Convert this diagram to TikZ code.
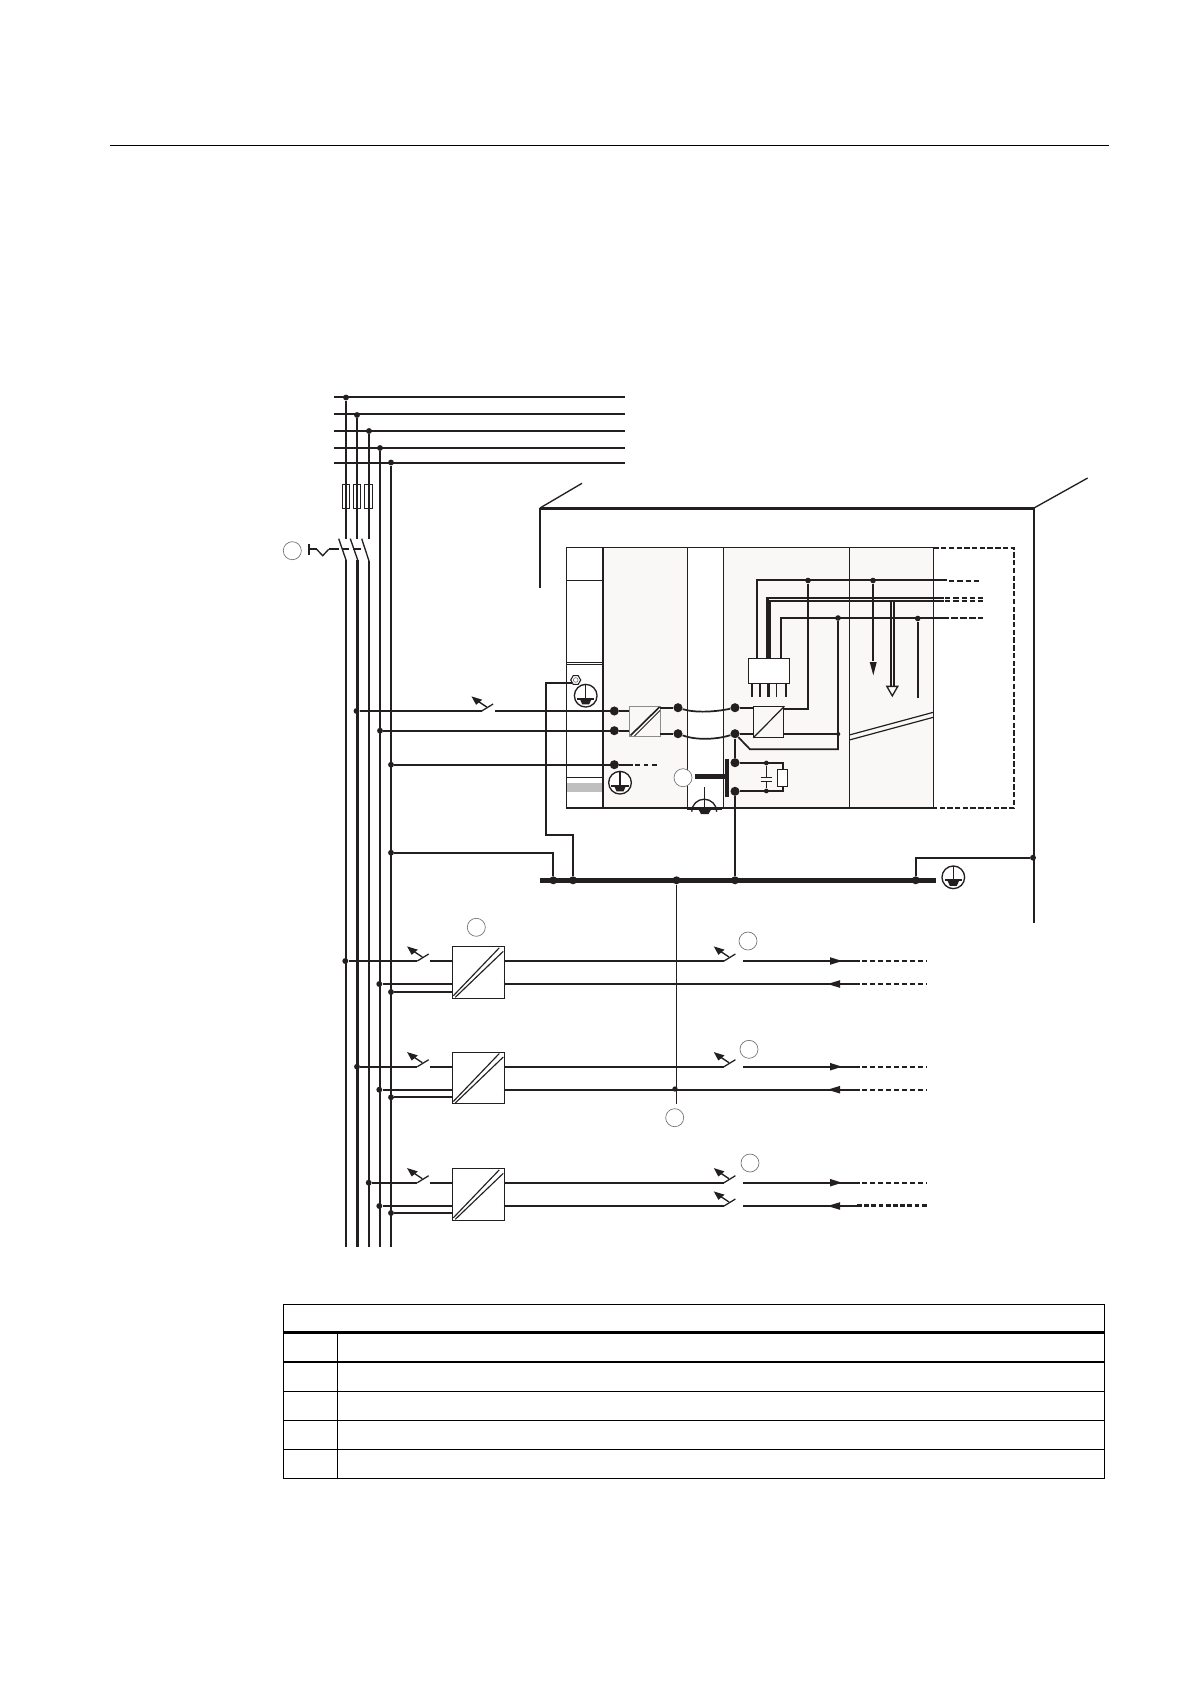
\documentclass[tikz,border=0pt]{standalone}
\usetikzlibrary{arrows.meta,shapes.geometric}
\definecolor{ink}{HTML}{231F20}
\definecolor{panel}{HTML}{F9F8F7}
\tikzset{
  x=0.75pt,y=-0.75pt,
  wire/.style={draw=ink,line width=1.3pt},
  fine/.style={draw=ink,line width=0.9pt},
  thin wire/.style={draw=ink,line width=0.75pt},
  heavy/.style={draw=ink,line width=3.3pt},
  encl/.style={draw=ink,line width=1.7pt},
  dashwire/.style={draw=ink,line width=1.2pt,dash pattern=on 4pt off 2.2pt},
  dot/.style={circle,fill=ink,inner sep=0pt,minimum size=4.4pt},
  bigdot/.style={circle,fill=ink,inner sep=0pt,minimum size=6.8pt},
  raildot/.style={circle,fill=ink,inner sep=0pt,minimum size=6pt},
  callout/.style={circle,draw=black!55,line width=0.5pt,fill=white,inner sep=0pt,minimum size=13.5pt},
  convbox/.style={draw=ink,line width=0.8pt,fill=white},
  tablerule/.style={draw=black,line width=0.85pt},
}
% breaker: line ends at (#1,#2); blade and operating arrow
\newcommand\myBreaker[2]{%
  \draw[wire,line width=0.95pt] (#1,#2)--++(11.4,-7);
  \fill[ink] (#1-10.2,#2-14.6)--(#1+0.5,#2-11.3)--(#1-5.6,#2-6.2)--cycle;
  \draw[wire,line width=1pt] (#1-4,#2-10)--(#1+5,#2-4);
}
% protective earth symbol
\newcommand\myEarth[3]{%
  \node[circle,draw=ink,line width=1pt,fill=#3,inner sep=0pt,minimum size=17pt] (#1) at (#2) {};
  \begin{scope}[shift={(#2)}]
    \draw[wire,line width=1pt] (0,-11)--(0,3);
    \draw[wire,line width=1.3pt] (-8.7,3)--(8.7,3);
    \fill[ink] (-6,3)--(6,3)--(3.5,8.6)--(-3.5,8.6)--cycle;
  \end{scope}
}
% double-diagonal converter
\newcommand\myConv[3]{%
  \node[convbox,rectangle,minimum width=38.5pt,minimum height=38.5pt,inner sep=0pt,anchor=north west] (#1) at (#2,#3) {};
  \draw[fine,line width=0.85pt] (#2+1,#3+49.5)--(#2+47,#3+1.5);
  \draw[fine,line width=0.85pt] (#2+3,#3+51)--(#2+51,#3+5);
}
\begin{document}
\begin{tikzpicture}
\useasboundingbox (0,0) rectangle (1190,1684);
\fill[white] (0,0) rectangle (1190,1684);

% page rule
\draw[draw=black,line width=0.75pt] (109.5,145.5)--(1108.5,145.5);

% supply buses
\foreach \y in {397,414,431,448,463}{\draw[wire] (334,\y)--(625,\y);}
\node[dot] (ja) at (346,397.5) {};
\node[dot] (jb) at (357,415) {};
\node[dot] (jc) at (369,431) {};
\node[dot] (jd) at (380,448) {};
\node[dot] (je) at (391,462.5) {};

% upper parts of the three switched phases, fuses
\draw[wire] (ja)--(346,538.7);
\draw[wire] (jb)--(357,538.7);
\draw[wire] (jc)--(369,538.7);
\foreach \x in {346,357,368.5}{\draw[thin wire,line width=0.7pt] (\x-3.8,484) rectangle (\x+3.8,508.7);}
% main switch
\draw[wire,line width=1pt] (338.7,538.7)--(346,560);
\draw[wire,line width=1pt] (350.3,538.7)--(357.7,560);
\draw[wire,line width=1pt] (361.7,538.7)--(369,561);
\draw[wire] (346,560)--(346,1246.5);
\draw[wire,line width=1.7pt] (357.5,560)--(357.5,1246.5);
\draw[wire] (369,561)--(369,1246.5);
\draw[wire] (jd)--(380,1246.5);
\draw[wire] (je)--(391,1246.5);
% main switch drive
\draw[wire,line width=1.7pt] (308.7,544)--(308.7,555);
\draw[wire,line width=1.6pt] (308.7,549.3)--(316.7,549.3);
\draw[wire,line width=1pt] (316.7,549.3)--(322.7,555.7)--(328.7,549.3);
\draw[wire,line width=1.6pt] (328.7,549.3)--(339,549.3);
\draw[wire,line width=1.6pt] (342,549.3)--(349,549.3);
\draw[wire,line width=1.6pt] (353.3,549.3)--(360.7,549.3);
\node[callout] (c1) at (292.3,550.7) {};

% enclosure
\draw[encl,line width=2.2pt] (540,508.3)--(1034,508.3);
\draw[encl] (540,507.5)--(540,587.7);
\draw[encl] (1034,507.5)--(1034,923.3);
\draw[wire,line width=1pt] (540,508)--(582,483.3);
\draw[wire,line width=1pt] (1034,508)--(1087.7,478);

% rack panels
\fill[panel] (602.7,547.3) rectangle (687.3,808);
\fill[panel] (723.3,547.3) rectangle (933.3,808);
\draw[fine] (566.3,547.3)--(933.3,547.3);
\draw[fine] (566.3,808)--(933.3,808);
\draw[fine] (566.3,547.3)--(566.3,808);
\draw[wire,line width=1.2pt] (602.7,546.5)--(602.7,808);
\draw[fine] (687.3,547.3)--(687.3,808);
\draw[fine] (723.3,547.3)--(723.3,808);
\draw[fine] (849.3,547.3)--(849.3,808);
\draw[fine] (933.3,547.3)--(933.3,808);
\foreach \y in {580,662,664,777.3}{\draw[fine,line width=0.7pt] (566.3,\y)--(602.7,\y);}
\fill[black!25] (566.8,783.3) rectangle (602,792.3);
\draw[draw=ink,line width=1.2pt,dash pattern=on 4pt off 1.8pt] (933.3,548)--(1014,548)--(1014,808)--(933.3,808);
\draw[fine] (849.3,735)--(933.3,712.3);
\draw[fine] (849.3,740)--(933.3,717.3);

% signal bus wires
\coordinate (cona) at (757,658.3);
\coordinate (conb) at (766.7,658.3);
\coordinate (conc) at (770,658.3);
\coordinate (cond) at (780.7,658.3);
\node[dot,minimum size=4.2pt] (j1) at (808,580.5) {};
\node[dot,minimum size=4.2pt] (j2) at (873,580.5) {};
\node[dot,minimum size=4.2pt] (j3) at (838,618) {};
\node[dot,minimum size=4.2pt] (j4) at (917.7,618.5) {};
\draw[wire] (cona)--(757,580)--(946.7,580);
\draw[dashwire] (949,581)--(982,581);
\draw[wire] (conb)--(766.7,597.7)--(944,597.7);
\draw[wire] (conc)--(770,600.7)--(944,600.7);
\draw[wire,line width=2pt] (768,658.3)--(768,599);
\draw[dashwire] (945,597.7)--(984,597.7);
\draw[dashwire] (945,600.9)--(984,600.9);
\draw[wire] (cond)--(780.7,617.7)--(942,617.7);
\draw[dashwire,line width=1.7pt,dash pattern=on 5.2pt off 1.5pt] (942,618)--(983,618);
% lower loads
\draw[wire] (j2)--(873,661);
\fill[ink] (869.7,662)--(876.7,662)--(873.3,675.3)--cycle;
\draw[fine,line width=1pt] (891,600.7)--(891,687);
\draw[fine,line width=1pt] (894,600.7)--(894,687);
\node[draw=ink,line width=1pt,fill=white,regular polygon,regular polygon sides=3,shape border rotate=180,inner sep=0pt,minimum size=9.5pt] (hol) at (892.3,689.5) {};
\draw[wire] (j4)--(917.7,697.7);
% connector block
\node[draw=ink,line width=0.85pt,fill=white,minimum width=30.3pt,minimum height=18.3pt,inner sep=0pt,anchor=north west] (block) at (748.3,658.3) {};
\foreach \x in {752,760,776.7,786}{\draw[wire,line width=1.1pt] (\x,682.7)--(\x,696.7);}
\draw[wire,line width=1.8pt] (768.3,682.7)--(768.3,696.7);

% supply to rack
\node[dot] (in1) at (356.5,711) {};
\node[dot] (in2) at (380,730.7) {};
\node[dot] (in3) at (391,764.7) {};
\node[bigdot] (d1) at (614.3,711) {};
\node[bigdot] (d2) at (614.3,730.7) {};
\node[bigdot] (d3) at (614.3,764.7) {};
\draw[wire] (in1)--(481.7,711);
\myBreaker{481.7}{711}
\draw[wire] (495,711)--(d1);
\draw[wire] (in2)--(d2);
\draw[wire] (in3)--(d3);
\draw[wire] (d3)--(633,764.7);
\draw[dashwire,dash pattern=on 3.5pt off 3pt] (635,764.7)--(660,764.7);

% converter 1 (rack)
\node[draw=black!45,line width=0.8pt,fill=panel,minimum width=23.2pt,minimum height=23pt,inner sep=0pt,anchor=north west] (cv1) at (629.3,705.7) {};
\draw[draw=ink,line width=1.2pt] (630.5,735.5)--(659.5,707);
\draw[draw=ink,line width=0.7pt] (634.5,736)--(660,710.5);
\coordinate (cv1a) at (629.3,711);
\coordinate (cv1b) at (629.3,730.7);
\draw[wire] (d1)--(cv1a);
\draw[wire] (d2)--(cv1b);
\node[bigdot] (d4) at (678,707.7) {};
\node[bigdot] (d5) at (678,733.7) {};
\node[bigdot] (d6) at (735,707.7) {};
\node[bigdot] (d7) at (735,733.7) {};
\coordinate (cv1c) at (660.3,707.7);
\coordinate (cv1d) at (660.3,733.7);
\draw[wire] (cv1c)--(d4);
\draw[wire] (cv1d)--(d5);
\draw[wire] (d4) .. controls (695,713) and (715,712) .. (d6);
\draw[wire] (d5) .. controls (695,740) and (715,740) .. (d7);
% converter 2
\node[draw=ink,line width=0.8pt,fill=panel,minimum width=22.5pt,minimum height=22.8pt,inner sep=0pt,anchor=north west] (cv2) at (753.3,706.3) {};
\draw[fine] (cv2.south west)--(cv2.north east);
\coordinate (cv2a) at (753.3,707.7);
\coordinate (cv2b) at (753.3,733.7);
\draw[wire] (d6)--(cv2a);
\draw[wire] (d7)--(cv2b);
\coordinate (cv2c) at (783.3,708.7);
\draw[wire] (cv2c)--(808,708.7)--(j1);
\draw[wire,line width=1.9pt] (783.3,734)--(838,734);
\draw[wire] (j3)--(838,749.3)--(750,749.3)--(d7);
\node[dot,minimum size=3pt] (j3b) at (838.3,734) {};

% filter group
\node[bigdot] (d8) at (735,762.7) {};
\node[bigdot] (d9) at (735,791.3) {};
\draw[wire] (d7)--(d8);
\draw[draw=ink,line width=3.2pt] (727.3,759)--(727.3,796.7);
\draw[draw=ink,line width=3.6pt] (695,776.3)--(727.3,776.3);
\node[callout] (c2) at (683,777.7) {};
\draw[wire,line width=1.6pt] (d8)--(783.3,762.7)--(783.3,791.3)--(d9);
\node[dot,minimum size=3.6pt] (fa) at (766.3,763) {};
\node[dot,minimum size=3.6pt] (fb) at (766.3,791) {};
\draw[wire,line width=1pt] (fa)--(766.3,777.7);
\draw[wire,line width=1pt] (fb)--(766.3,781.3);
\draw[wire,line width=1.1pt] (760.7,777.7)--(772,777.7);
\draw[wire,line width=1.1pt] (760.7,781.3)--(772,781.3);
\node[draw=ink,line width=0.8pt,fill=white,minimum width=7pt,minimum height=12.7pt,inner sep=0pt,anchor=north west] (res) at (777.3,768.7) {};

% bottom screen earth
\draw[wire,line width=1.1pt] (704.7,787.3)--(704.7,808);
\draw[wire,line width=1pt] (691.7,811.7) arc (180:360:12.5);
\draw[draw=ink,line width=1pt] (686.5,809)--(722,809);
\fill[ink] (698,808.5)--(711.7,808.5)--(708.5,814)--(701,814)--cycle;

% earth symbols
\myEarth{ea}{585.7,695.7}{white}
\myEarth{eb}{620,782.7}{white}
\myEarth{ec}{953.3,877.3}{white}
\node[draw=ink,line width=0.8pt,fill=white,regular polygon,regular polygon sides=6,inner sep=0pt,minimum size=7.5pt] (bolt) at (575.7,680) {};
\node[circle,draw=black!60,line width=0.4pt,inner sep=0pt,minimum size=3.5pt] (boltc) at (575.7,680) {};
\coordinate (boltfoot) at (571.7,682.7);

% earth rail
\draw[heavy] (540,880.3)--(935.7,880.3);
\node[raildot] (r1) at (553.3,880.3) {};
\node[raildot] (r2) at (573,880.3) {};
\node[raildot] (r3) at (676.5,880.3) {};
\node[raildot] (r4) at (735,880.3) {};
\node[raildot] (r5) at (915.7,880.3) {};
\node[dot] (pe) at (391,852.7) {};
\node[dot] (en) at (1033,857.7) {};
\draw[wire] (boltfoot)--(545.7,682.7)--(545.7,834.7)--(573,834.7)--(r2);
\draw[wire] (pe)--(553.3,852.7)--(r1);
\draw[wire] (r5)--(915.7,857.7)--(en);
\draw[wire] (d9)--(r4);
\coordinate (vend) at (676.5,1104);
\draw[wire] (r3)--(vend);

% power supply rows
\foreach \ya/\yb/\yc/\yt/\xa/\na in {961/984/992/946.3/345.3/p,1066.7/1089.7/1097.3/1052/357/q,1182.7/1206/1213/1168.3/368.7/s}{
  \node[dot] (\na a) at (\xa,\ya) {};
  \node[dot] (\na b) at (379.3,\yb) {};
  \node[dot] (\na c) at (391,\yc) {};
  \draw[wire] (\na a)--(417.3,\ya);
  \myBreaker{417.3}{\ya}
  \draw[wire] (430,\ya)--(452.3,\ya);
  \draw[wire] (\na b)--(452.3,\yb);
  \draw[wire] (\na c)--(452.3,\yc);
  \myConv{\na box}{452.3}{\yt}
}
\coordinate (qcin) at (452.3,1097.3);
\draw[wire,line width=1.7pt] (qc)--(qcin);

% outputs rows 1 and 2
\foreach \ya/\yb in {961/984,1066.7/1089.7}{
  \draw[wire] (503.7,\ya)--(724,\ya);
  \myBreaker{724}{\ya}
  \draw[wire] (743,\ya)--(860,\ya);
  \fill[ink] (830,\ya-3.8)--(842,\ya)--(830,\ya+3.8)--cycle;
  \draw[dashwire,dash pattern=on 3.6pt off 2.4pt] (862,\ya)--(927.3,\ya);
  \draw[wire] (503.7,\yb)--(860,\yb);
  \fill[ink] (840,\yb-3.8)--(827.5,\yb)--(840,\yb+3.8)--cycle;
  \draw[dashwire,dash pattern=on 3.6pt off 2.4pt] (862,\yb)--(927.3,\yb);
}
\node[dot,minimum size=4pt] (qrail) at (675,1089) {};
% outputs row 3
\draw[wire] (503.7,1182.7)--(724,1182.7);
\draw[wire] (503.7,1206)--(724,1206);
\myBreaker{724}{1182.7}
\myBreaker{724}{1206}
\draw[wire] (743,1182.7)--(860,1182.7);
\draw[wire] (743,1206)--(858,1206);
\fill[ink] (830,1178.9)--(842,1182.7)--(830,1186.5)--cycle;
\fill[ink] (840,1202.2)--(827.5,1206)--(840,1209.8)--cycle;
\draw[dashwire,dash pattern=on 3.6pt off 2.4pt] (862,1182.7)--(927.3,1182.7);
\draw[dashwire,line width=1.6pt,dash pattern=on 3.6pt off 1.8pt] (857,1205.5)--(927.3,1205.5);

% callouts
\node[callout] (c3) at (476.3,927.3) {};
\node[callout] (c4) at (748,941) {};
\node[callout] (c5) at (749,1049.3) {};
\node[callout] (c6) at (674.7,1117.7) {};
\node[callout] (c7) at (750,1163) {};

% table
\draw[tablerule] (283.7,1304.3) rectangle (1104.5,1478.3);
\draw[draw=black,line width=2.3pt] (283.7,1332.3)--(1104.5,1332.3);
\foreach \y in {1362,1391.3,1420.3,1449.3}{\draw[tablerule] (283.7,\y)--(1104.5,\y);}
\draw[tablerule] (337.3,1332.3)--(337.3,1478.3);
\end{tikzpicture}
\end{document}
